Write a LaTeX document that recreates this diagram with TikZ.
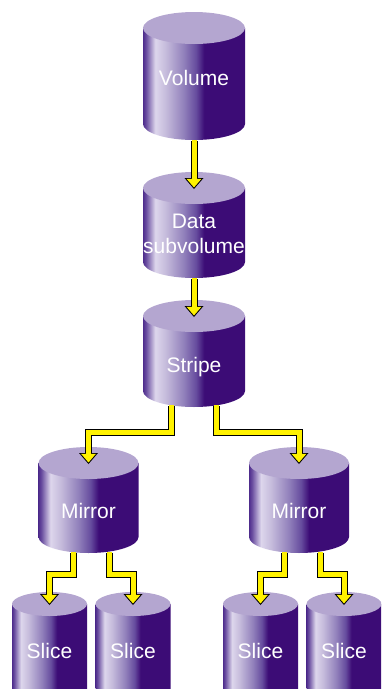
\documentclass[tikz,border=0pt]{standalone}
\usepackage{fontspec}
\setmainfont{Liberation Sans}
\usetikzlibrary{calc}
\usetikzlibrary{arrows.meta}
\definecolor{diskedge}{HTML}{4E2C8C}
\definecolor{diskrim}{HTML}{6A4EA0}
\definecolor{disklight}{HTML}{DDD6EC}
\definecolor{diskpale}{HTML}{C6BCDC}
\definecolor{diskmid}{HTML}{9180BB}
\definecolor{diskdeep}{HTML}{664C9E}
\definecolor{diskdark}{HTML}{3C0C76}
\definecolor{disktop}{HTML}{B4A6D0}
\pgfdeclarehorizontalshading{diskbody}{100bp}{color(0bp)=(diskedge); color(25bp)=(diskedge); color(26.5bp)=(diskrim); color(31bp)=(disklight); color(36bp)=(diskpale); color(45bp)=(diskmid); color(51bp)=(diskdeep); color(55bp)=(diskdark); color(100bp)=(diskdark)}
% disk: name, x, top, bottom, x radius, y radius, baseline, text
\newcommand{\disk}[8]{%
  \shade[shading=diskbody] ({#2-#5},{-(#3)-#6}) -- ({#2-#5},{-(#4)+#6}) arc[start angle=180, end angle=360, x radius=#5, y radius=#6] -- ({#2+#5},{-(#3)-#6}) -- cycle;
  \fill[disktop] (#2,{-(#3)-#6}) ellipse[x radius=#5, y radius=#6];
  \coordinate (#1-bot) at (#2,{-(#4)});
  \coordinate (#1-in) at (#2,{-(#3)-#6-1});
  \node[disklabel] (#1) at (#2,{-(#7)}) {#8};
}
\newcommand{\pipe}[1]{\draw[pipeout] #1; \draw[pipein] #1;}

\begin{document}
\begin{tikzpicture}[
    x=1pt, y=1pt,
    disklabel/.style={text=white, anchor=base, align=center, inner sep=0pt, font=\fontsize{21}{25}\selectfont},
    pipeout/.style={draw=black, line width=7pt, line cap=butt, shorten <=1pt, -{Triangle[width=19pt, length=11pt, line width=0pt]}},
    pipein/.style={draw=yellow, line width=5pt, line cap=butt, shorten >=1.53pt, -{Triangle[width=14.6pt, length=8.5pt, line width=0pt]}}
]
    \useasboundingbox (0,0) rectangle (381,-689);
    \clip (0,0) rectangle (381,-689);

    % Disks
    \disk{volume}{194}{12}{140}{51}{16}{85}{Volume}
    \disk{data}{194}{172}{278}{51}{16}{253}{Data\\subvolume}
    \disk{stripe}{194}{300}{407}{51}{16}{372}{Stripe}
    \disk{mirrorl}{88.5}{447}{553}{50}{16}{518}{Mirror}
    \disk{mirrorr}{299}{447}{553}{50}{16}{518}{Mirror}
    \disk{slicea}{49.5}{592}{720}{37.5}{12}{658}{Slice}
    \disk{sliceb}{133}{592}{720}{37.5}{12}{658}{Slice}
    \disk{slicec}{260.5}{592}{720}{37.5}{12}{658}{Slice}
    \disk{sliced}{344}{592}{720}{37.5}{12}{658}{Slice}

    % Straight pipes
    \pipe{(volume-bot) -- (data-in)}
    \pipe{(data-bot) -- (stripe-in)}

    % Elbow pipes
    \pipe{($(stripe-bot)+(-22.5,1.6)$) |- ($(mirrorl-in)+(0,31.5)$) -- (mirrorl-in)}
    \pipe{($(stripe-bot)+(22.5,1.6)$) |- ($(mirrorr-in)+(0,31.5)$) -- (mirrorr-in)}
    \pipe{($(mirrorl-bot)+(-15,0.7)$) |- ($(slicea-in)+(0,30.5)$) -- (slicea-in)}
    \pipe{($(mirrorl-bot)+(21,1.5)$) |- ($(sliceb-in)+(0,30.5)$) -- (sliceb-in)}
    \pipe{($(mirrorr-bot)+(-15,0.7)$) |- ($(slicec-in)+(0,30.5)$) -- (slicec-in)}
    \pipe{($(mirrorr-bot)+(21,1.5)$) |- ($(sliced-in)+(0,30.5)$) -- (sliced-in)}
\end{tikzpicture}
\end{document}
